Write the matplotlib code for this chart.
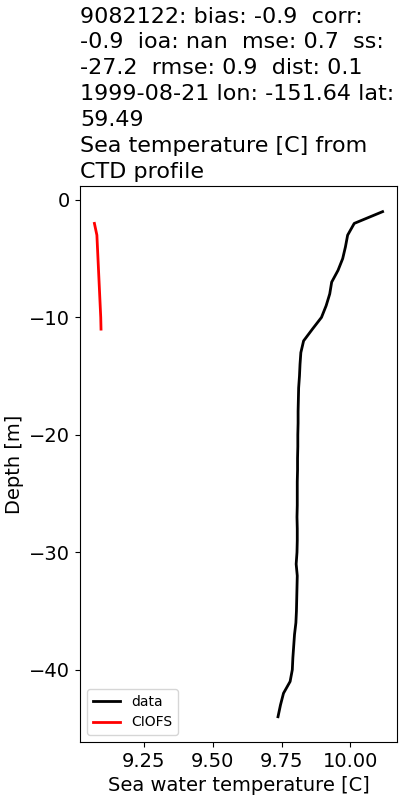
import numpy as np
import matplotlib
matplotlib.use("Agg")
from matplotlib import pyplot as plt

# CTD profile (data)
data_depth = [-1, -2, -3, -4, -5, -6, -7, -8, -9, -10, -11, -12, -13, -14, -15,
              -16, -17, -18, -19, -20, -21, -22, -23, -24, -25, -26, -27, -28,
              -29, -30, -31, -32, -33, -34, -35, -36, -37, -38, -39, -40, -41,
              -42, -43, -44]
data_temp = [10.117, 10.014, 9.990, 9.982, 9.972, 9.955, 9.932, 9.925, 9.912,
             9.895, 9.862, 9.830, 9.820, 9.817, 9.815, 9.812, 9.811, 9.810,
             9.810, 9.809, 9.809, 9.808, 9.808, 9.807, 9.807, 9.807, 9.806,
             9.807, 9.807, 9.806, 9.803, 9.807, 9.806, 9.805, 9.804, 9.802,
             9.797, 9.794, 9.791, 9.789, 9.781, 9.757, 9.746, 9.737]

# model (CIOFS)
model_depth = [-2, -3, -4, -5, -6, -7, -8, -9, -10, -11]
model_temp = [9.070, 9.079, 9.081, 9.083, 9.085, 9.087, 9.089, 9.091, 9.093, 9.094]

title = ("9082122: bias: -0.9  corr:\n"
         "-0.9  ioa: nan  mse: 0.7  ss:\n"
         "-27.2  rmse: 0.9  dist: 0.1\n"
         "1999-08-21 lon: -151.64 lat:\n"
         "59.49\n"
         "Sea temperature [C] from\n"
         "CTD profile")

fig, ax = plt.subplots(figsize=(4, 8), dpi=100)
fig.subplots_adjust(left=0.2, right=0.9925, top=0.767, bottom=0.0725)

ax.plot(data_temp, data_depth, color="k", lw=2, label="data")
ax.plot(model_temp, model_depth, color="r", lw=2, label="CIOFS")

ax.set_title(title, loc="left", fontsize=16, linespacing=1.37)
ax.set_xlabel("Sea water temperature [C]", fontsize=14)
ax.set_ylabel("Depth [m]", fontsize=14)
ax.tick_params(labelsize=14)
ax.legend(loc="lower left", fontsize=10)

fig.savefig("out.png")
